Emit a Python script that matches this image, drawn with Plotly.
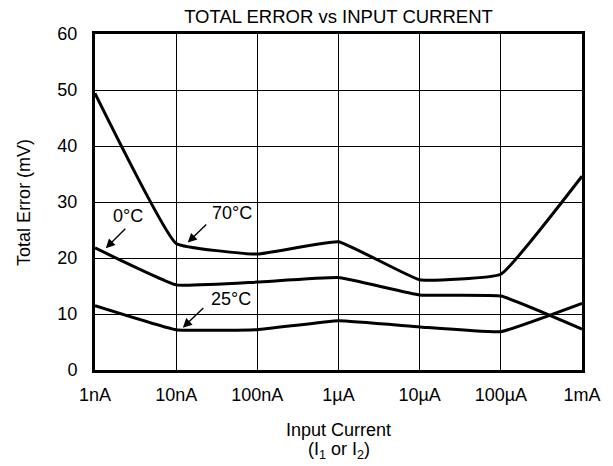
import plotly.graph_objects as go

current_a = [1e-9, 1e-8, 1e-7, 1e-6, 1e-5, 1e-4, 1e-3]
tick_labels = ["1nA", "10nA", "100nA", "1\u00b5A", "10\u00b5A", "100\u00b5A", "1mA"]
err_70c = [49.4, 22.6, 20.7, 22.9, 16.1, 17.1, 34.6]
err_0c = [21.8, 15.2, 15.7, 16.5, 13.4, 13.2, 7.3]
err_25c = [11.5, 7.2, 7.2, 8.8, 7.7, 6.85, 11.9]
y_ticks = [0, 10, 20, 30, 40, 50, 60]

FONT = "Liberation Sans, Arial, sans-serif"
FS = 18

fig = go.Figure()
for name, vals in [("70\u00b0C", err_70c), ("0\u00b0C", err_0c), ("25\u00b0C", err_25c)]:
    fig.add_trace(go.Scatter(x=current_a, y=vals, mode="lines", name=name,
                             line=dict(color="black", width=3, shape="spline", smoothing=0.3),
                             showlegend=False, hoverinfo="x+y+name"))

ann = []
# arrows: head at the curve, tail offset in px
for hx, hy, ax, ay in [(-8.867, 21.76, 21, -21), (-7.857, 22.77, 20, -19.5), (-7.918, 7.56, 22, -21)]:
    ann.append(dict(x=hx, y=hy, xref="x", yref="y", text="", showarrow=True,
                    ax=ax, ay=ay, arrowhead=2, arrowsize=1.3, arrowwidth=1.4,
                    arrowcolor="black", standoff=0, startstandoff=0))
for tx, ty, t in [(-8.594, 27.5, "0\u00b0C"), (-7.315, 28.0, "70\u00b0C"), (-7.324, 12.7, "25\u00b0C")]:
    ann.append(dict(x=tx, y=ty, xref="x", yref="y", text=t, showarrow=False,
                    font=dict(family=FONT, size=FS, color="black")))
ann.append(dict(x=0.5, y=-0.178, xref="paper", yref="paper", yanchor="middle",
                text="Input Current", showarrow=False,
                font=dict(family=FONT, size=FS, color="black")))
ann.append(dict(x=0.5, y=-0.24, xref="paper", yref="paper", yanchor="middle",
                text="(I<sub>1</sub> or I<sub>2</sub>)", showarrow=False,
                font=dict(family=FONT, size=FS, color="black")))
ann.append(dict(x=-0.146, y=0.5, xref="paper", yref="paper", xanchor="center", yanchor="middle",
                text="Total Error (mV)", textangle=-90, showarrow=False,
                font=dict(family=FONT, size=FS, color="black")))

fig.update_layout(
    width=605, height=458,
    margin=dict(l=87, r=23, t=26, b=96),
    paper_bgcolor="white", plot_bgcolor="white",
    font=dict(family=FONT, size=FS, color="black"),
    title=dict(text="TOTAL ERROR vs INPUT CURRENT", x=0.5, xref="paper", xanchor="center",
               yref="container", y=1 - 8.5 / 458, yanchor="middle",
               font=dict(family=FONT, size=18.5, color="black")),
    annotations=ann,
)
fig.update_xaxes(type="log", range=[-9, -3], tickvals=current_a, ticktext=tick_labels,
                 showgrid=True, gridcolor="black", gridwidth=1,
                 showline=True, linecolor="black", linewidth=3, mirror=True,
                 ticks="outside", ticklen=6, tickcolor="rgba(0,0,0,0)",
                 tickfont=dict(size=FS), zeroline=False)
fig.update_yaxes(range=[0, 60], tickvals=y_ticks,
                 showgrid=True, gridcolor="black", gridwidth=1,
                 showline=True, linecolor="black", linewidth=3, mirror=True,
                 ticks="outside", ticklen=11, tickcolor="rgba(0,0,0,0)",
                 tickfont=dict(size=FS), zeroline=False)

fig.write_html("out.html")
